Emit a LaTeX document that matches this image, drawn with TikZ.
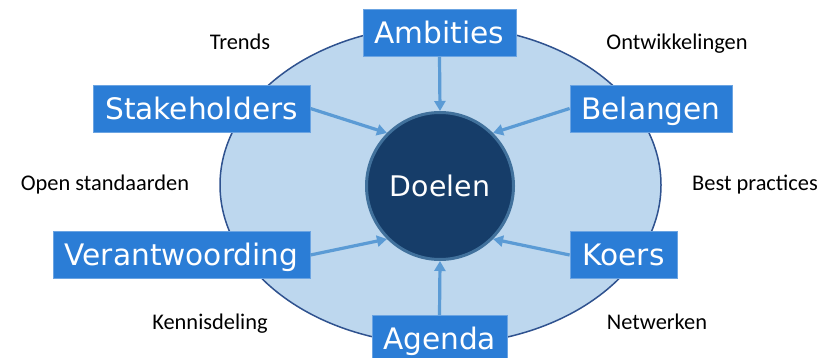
\documentclass[tikz,border=0pt]{standalone}
\usepackage{fontspec}
\newfontfamily\boxfont{DejaVu Sans}
\newfontfamily\lblfont{Carlito}
\usetikzlibrary{arrows.meta}
\definecolor{boxblue}{RGB}{43,125,214}
\definecolor{ellfill}{RGB}{189,215,238}
\definecolor{elldraw}{RGB}{47,82,143}
\definecolor{circfill}{RGB}{22,61,105}
\definecolor{circdraw}{RGB}{65,113,156}
\definecolor{arrowblue}{RGB}{91,155,213}
\begin{document}
\begin{tikzpicture}[x=1pt,y=-1pt,
 box/.style={fill=boxblue, draw=boxblue!70!white, line width=0.8pt, text=white,
   font=\boxfont\fontsize{29.6}{31}\selectfont, inner sep=0pt, minimum height=47pt,
   text height=21.6pt, text depth=0pt},
 lbl/.style={font=\lblfont\fontsize{22.4}{24}\selectfont, text=black, inner sep=0pt,
   text height=14.4pt, text depth=0pt},
 arr/.style={draw=arrowblue, line width=3.2pt, -{Triangle[length=10pt,width=11pt]}}]
\useasboundingbox (0,0) rectangle (821,358);
\fill[white] (0,0) rectangle (821,358);
\draw[fill=ellfill, draw=elldraw, line width=1.5pt] (440.5,185) ellipse [x radius=220.5pt, y radius=159.5pt];
\node[circle, fill=circfill, draw=circdraw, line width=3pt, minimum size=147pt, inner sep=0pt,
  text=white, font=\boxfont\fontsize{28.4}{30}\selectfont, text height=20.7pt, text depth=0pt]
  (doel) at (440,186) {Doelen};
\node[box, minimum width=153pt] (amb) at (439.5,33) {Ambities};
\node[box, minimum width=217pt] (sta) at (201.5,108.5) {Stakeholders};
\node[box, minimum width=162pt] (bel) at (651,108.5) {Belangen};
\node[box, minimum width=257pt] (ver) at (181.5,255) {Verantwoording};
\node[box, minimum width=107pt] (koe) at (623.5,255) {Koers};
\node[box, minimum width=135pt] (age) at (439.5,339) {Agenda};
\node[lbl] (tr) at (240,42) {Trends};
\node[lbl] (on) at (677,42) {Ontwikkelingen};
\node[lbl] (os) at (105,183) {Open standaarden};
\node[lbl] (bp) at (755,183) {Best practices};
\node[lbl] (kd) at (210,322) {Kennisdeling};
\node[lbl] (nw) at (657,322) {Netwerken};
\draw[arr] (amb.south) -- (doel.north);
\draw[arr] (age.north) -- (doel.south);
\draw[arr] (sta.east) -- (doel.north west);
\draw[arr] (bel.west) -- (doel.north east);
\draw[arr] (ver.east) -- (doel.south west);
\draw[arr] (koe.west) -- (doel.south east);
\end{tikzpicture}
\end{document}
